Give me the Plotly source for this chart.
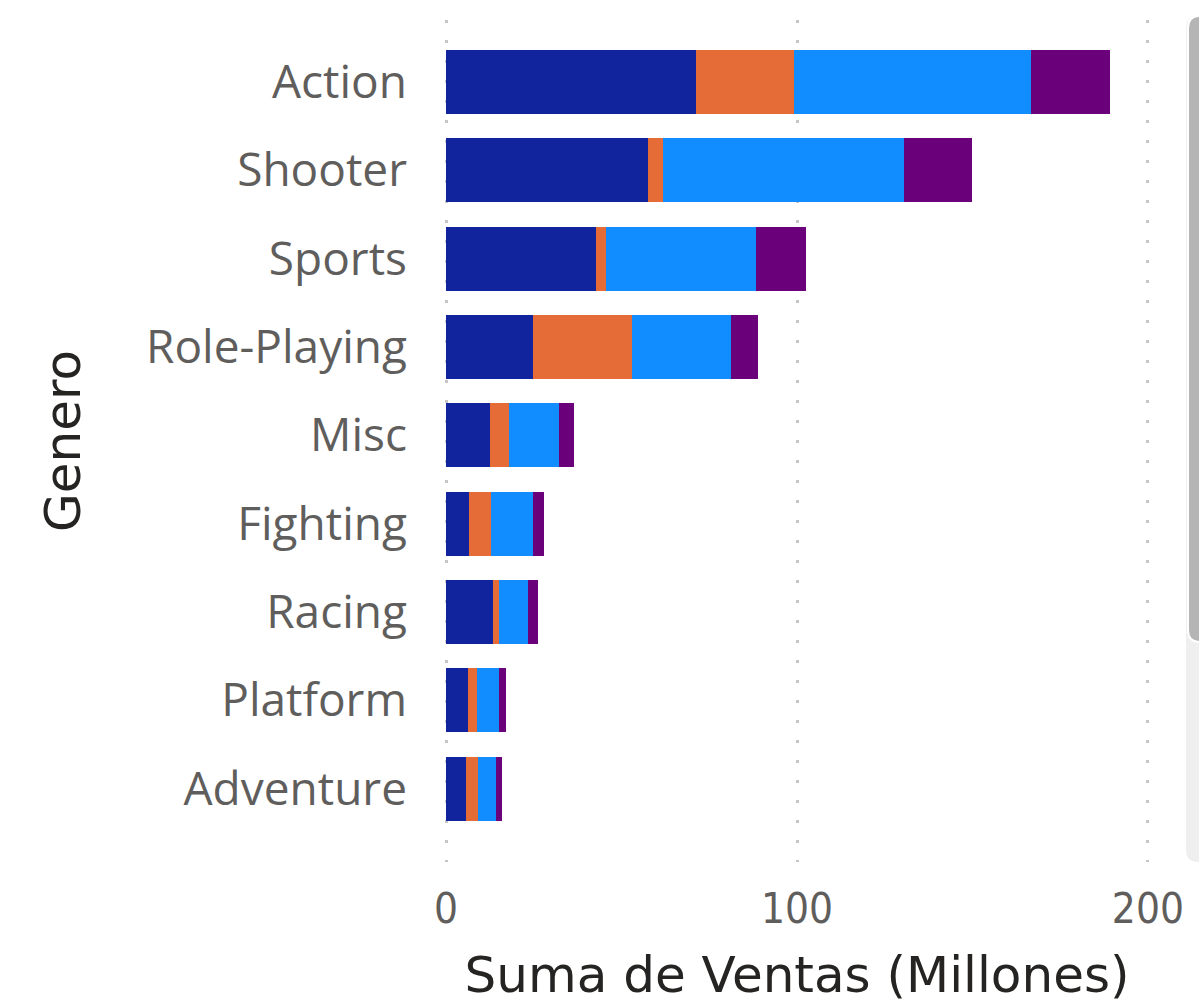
import plotly.graph_objects as go

generos = ["Action", "Shooter", "Sports", "Role-Playing", "Misc", "Fighting", "Racing", "Platform", "Adventure"]
serie_1 = [71.2, 57.5, 42.7, 24.8, 12.5, 6.6, 13.4, 6.3, 5.7]
serie_2 = [27.9, 4.3, 2.9, 28.2, 5.4, 6.2, 1.7, 2.5, 3.4]
serie_3 = [67.6, 68.7, 42.7, 28.2, 14.3, 12.0, 8.3, 6.3, 5.1]
serie_4 = [22.5, 19.4, 14.3, 7.7, 4.3, 3.1, 2.8, 2.0, 1.8]
nombres = ["Serie 1", "Serie 2", "Serie 3", "Serie 4"]
colores = ["#12239E", "#E66C37", "#118DFF", "#6B007B"]
x_ticks = [0, 100, 200]

fig = go.Figure()
for nombre, valores, color in zip(nombres, [serie_1, serie_2, serie_3, serie_4], colores):
    fig.add_trace(go.Bar(
        y=generos, x=valores, name=nombre, orientation="h",
        marker=dict(color=color, line=dict(width=0)),
    ))

W, H = 1199, 1006
L, R, T, B = 444, 1150, 20, 862

def px_x(p):
    return (p - L) / (R - L)

def px_y(p):
    return (B - p) / (B - T)

def rounded_rect(x0, y0, x1, y1, r):
    # pixel coords -> paper path with rounded left corners
    X = lambda v: f"{px_x(v):.5f}"
    Y = lambda v: f"{px_y(v):.5f}"
    return (f"M {X(x1)},{Y(y0)} L {X(x0 + r)},{Y(y0)} Q {X(x0)},{Y(y0)} {X(x0)},{Y(y0 + r)} "
            f"L {X(x0)},{Y(y1 - r)} Q {X(x0)},{Y(y1)} {X(x0 + r)},{Y(y1)} L {X(x1)},{Y(y1)} Z")

fig.update_layout(
    width=W, height=H,
    barmode="stack",
    bargap=0.275,
    showlegend=False,
    plot_bgcolor="white",
    paper_bgcolor="white",
    margin=dict(l=L, r=W - R, t=T, b=H - B, pad=0),
    xaxis=dict(
        range=[-0.6, 200.6], tickvals=x_ticks, ticktext=[str(v) for v in x_ticks],
        showgrid=True, gridcolor="#C8C6C4", griddash="3px,17px", gridwidth=3,
        zeroline=False, showline=False, automargin=False,
        tickfont=dict(family="DejaVu Sans Condensed", size=42, color="#605E5C"),
        ticklabelstandoff=18,
        title=dict(text="Suma de Ventas (Millones)", standoff=24,
                   font=dict(family="DejaVu Sans", size=50, color="#252423")),
    ),
    yaxis=dict(
        categoryorder="array", categoryarray=generos,
        range=[8.83, -0.70],
        showgrid=False, zeroline=False, showline=False, automargin=False,
        tickfont=dict(family="Open Sans", size=46, color="#605E5C"),
        ticklabelstandoff=36,
        title=dict(text="Genero", standoff=49,
                   font=dict(family="DejaVu Sans", size=50, color="#252423")),
    ),
    shapes=[
        dict(type="path", xref="paper", yref="paper",
             path=rounded_rect(1186, 16, 1210, 862, 12),
             fillcolor="#EFEFEF", line=dict(width=0), layer="below"),
        dict(type="path", xref="paper", yref="paper",
             path=rounded_rect(1188, 16, 1210, 642, 12),
             fillcolor="#B5B5B5", line=dict(width=2, color="white"), layer="above"),
    ],
)

fig.write_html(
    "out.html",
    config={"displayModeBar": False},
    post_script="document.body.style.margin='0';document.body.style.overflow='hidden';",
)
